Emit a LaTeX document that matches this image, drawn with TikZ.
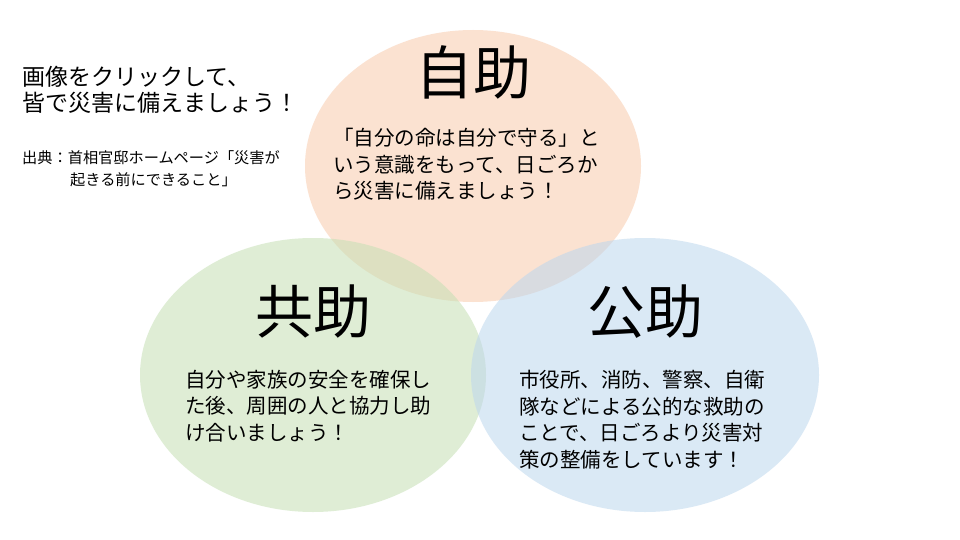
\documentclass[tikz,border=0pt]{standalone}
\usepackage{fontspec}
\newfontfamily\jp{Noto Sans CJK JP}
\definecolor{peach}{HTML}{F8CBAD}
\definecolor{grn}{HTML}{C5E0B4}
\definecolor{blu}{HTML}{BDD7EE}
\tikzset{circ/.style={opacity=0.55},
title/.style={font=\jp\fontsize{58}{64}\selectfont},
body/.style={font=\jp\fontsize{20.5}{26.5}\selectfont,anchor=north west,align=left,inner sep=0},
side/.style={anchor=west,inner sep=0}}
\begin{document}
\begin{tikzpicture}[x=1pt,y=-1pt]
\useasboundingbox (0,0) rectangle (960,540);
\fill[white] (0,0) rectangle (960,540);
\fill[peach,circ] (473,166) ellipse [x radius=168,y radius=136];
\fill[grn,circ] (313,375) ellipse [x radius=173,y radius=137];
\fill[blu,circ] (645,375) ellipse [x radius=174,y radius=137];
\node[title] (t1) at (473,72) {自助};
\node[title] (t2) at (313,312) {共助};
\node[title] (t3) at (645,312) {公助};
\node[body] (b1) at (333,128) {「自分の命は自分で守る」と\\いう意識をもって、日ごろか\\ら災害に備えましょう！};
\node[body] (b2) at (185,370) {自分や家族の安全を確保し\\た後、周囲の人と協力し助\\け合いましょう！};
\node[body] (b3) at (519,370) {市役所、消防、警察、自衛\\隊などによる公的な救助の\\ことで、日ごろより災害対\\策の整備をしています！};
\node[side,font=\jp\fontsize{23}{26}\selectfont] (s1) at (22,77) {画像をクリックして、};
\node[side,font=\jp\fontsize{23}{26}\selectfont] (s2) at (22,103) {皆で災害に備えましょう！};
\node[side,font=\jp\fontsize{15.2}{18}\selectfont] (s3) at (22,158) {出典：首相官邸ホームページ「災害が};
\node[side,font=\jp\fontsize{15.2}{18}\selectfont] (s4) at (70,180) {起きる前にできること」};
\end{tikzpicture}
\end{document}
